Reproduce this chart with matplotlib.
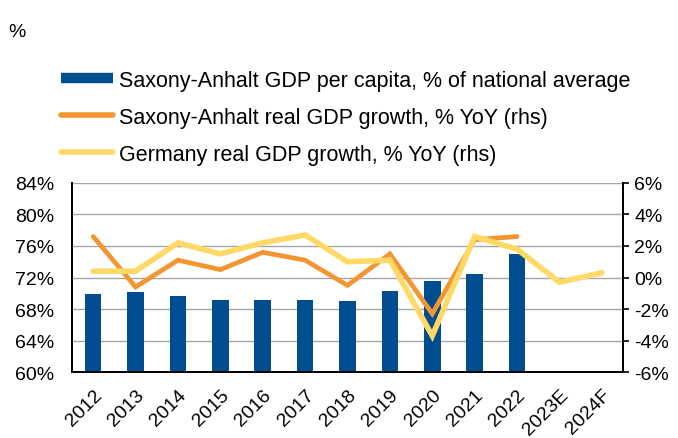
import matplotlib.pyplot as plt
from matplotlib.lines import Line2D
import numpy as np

plt.rcParams['font.family'] = ['Liberation Sans', 'DejaVu Sans']

# Data
years = ['2012', '2013', '2014', '2015', '2016', '2017', '2018',
         '2019', '2020', '2021', '2022', '2023E', '2024F']
gdp_pc_share = [69.9, 70.1, 69.6, 69.1, 69.1, 69.1, 69.0, 70.3, 71.6, 72.4, 75.0]
st_growth = [2.6, -0.6, 1.1, 0.5, 1.6, 1.1, -0.5, 1.5, -2.3, 2.4, 2.6]
de_growth = [0.4, 0.4, 2.2, 1.5, 2.2, 2.7, 1.0, 1.1, -3.7, 2.6, 1.8, -0.3, 0.3]

left_ticks = [60, 64, 68, 72, 76, 80, 84]
right_ticks = [-6, -4, -2, 0, 2, 4, 6]

BLUE = '#004D90'
ORANGE = '#F39530'
YELLOW = '#FFD966'

fig = plt.figure(figsize=(6.78, 4.39), dpi=100)
ax = fig.add_axes([0.1062, 0.1503, 0.8127, 0.4306])
ax2 = ax.twinx()

x = np.arange(len(years))
ax.bar(x[:len(gdp_pc_share)], np.array(gdp_pc_share) - 60, bottom=60,
       width=0.39, color=BLUE, zorder=2)
ax.set_ylim(60, 84)
ax.set_yticks(left_ticks)
ax.set_yticklabels([f'{t}%' for t in left_ticks], fontsize=14)
ax.set_xlim(-0.5, len(years) - 0.5)
ax.set_xticks(x)
ax.set_xticklabels(years, rotation=45, ha='right', rotation_mode='anchor', fontsize=14)
ax.tick_params(axis='y', length=0, pad=13)
ax.tick_params(axis='x', length=0, pad=10)
ax.grid(axis='y', color='#A6A6A6', linewidth=1, zorder=0)
ax.set_axisbelow(True)

ax2.plot(x[:len(st_growth)], st_growth, color=ORANGE, linewidth=3.4,
         solid_capstyle='round', solid_joinstyle='miter', zorder=3)
ax2.plot(x, de_growth, color=YELLOW, linewidth=4,
         solid_capstyle='round', solid_joinstyle='miter', zorder=4)
ax2.set_ylim(-6, 6)
ax2.set_yticks(right_ticks)
ax2.set_yticklabels([f'{t}%' for t in right_ticks], fontsize=14)
ax2.tick_params(axis='y', length=4, width=1.2, direction='out', pad=4)

for a in (ax, ax2):
    a.spines['top'].set_visible(False)
    for s in ('left', 'right', 'bottom'):
        a.spines[s].set_linewidth(1.3)
        a.spines[s].set_color('black')

fig.text(0.012, 0.925, '%', fontsize=14, va='center')

handles = [
    Line2D([], [], color=BLUE, linewidth=7.5, solid_capstyle='butt'),
    Line2D([], [], color=ORANGE, linewidth=4, solid_capstyle='round'),
    Line2D([], [], color=YELLOW, linewidth=4, solid_capstyle='round'),
]
labels = ['Saxony-Anhalt GDP per capita, % of national average',
          'Saxony-Anhalt real GDP growth, % YoY (rhs)',
          'Germany real GDP growth, % YoY (rhs)']
fig.legend(handles, labels, loc='upper left', bbox_to_anchor=(0.09, 0.839),
           frameon=False, fontsize=15.5, handlelength=2.4, handletextpad=0.28,
           labelspacing=0.74, borderpad=0, borderaxespad=0)

fig.savefig('out.png', dpi=100)
